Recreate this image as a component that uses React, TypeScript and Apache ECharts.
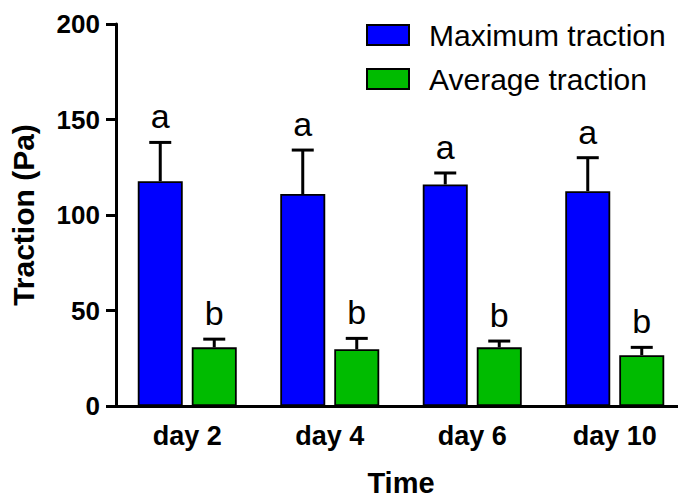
import React, { useEffect, useRef } from "react";
import * as echarts from "echarts";

const categories = ["day 2", "day 4", "day 6", "day 10"];
const maxMean = [117.7, 111, 116, 112.5];
const maxErr = [20.3, 23, 6, 17.5];
const avgMean = [30.7, 29.7, 30.7, 26.6];
const avgErr = [4.3, 5.7, 3.3, 4.1];
const maxLetters = ["a", "a", "a", "a"];
const avgLetters = ["b", "b", "b", "b"];
const yTicks = [0, 50, 100, 150, 200];

const FONT = "'Liberation Sans', Arial, Helvetica, sans-serif";

function errSeries(name: string, means: number[], errs: number[], letters: string[], offset: number) {
  return {
    type: "custom",
    name,
    clip: false,
    z: 5,
    data: means.map((m, i) => [i, m, errs[i]]),
    renderItem: (params: any, api: any) => {
      const i = api.value(0);
      const m = api.value(1);
      const e = api.value(2);
      const base = api.coord([i, m]);
      const top = api.coord([i, m + e]);
      const x = base[0] + offset;
      return {
        type: "group",
        children: [
          { type: "line", shape: { x1: x, y1: base[1], x2: x, y2: top[1] }, style: { stroke: "#000", lineWidth: 3 } },
          { type: "line", shape: { x1: x - 11, y1: top[1], x2: x + 11, y2: top[1] }, style: { stroke: "#000", lineWidth: 3 } },
          {
            type: "text",
            x: x,
            y: top[1] - 9,
            style: {
              text: letters[params.dataIndex],
              fontFamily: FONT,
              fontSize: 34,
              fill: "#000",
              align: "center",
              verticalAlign: "bottom",
            },
          },
        ],
      };
    },
  };
}

export default function App() {
  const ref = useRef<HTMLDivElement>(null);
  useEffect(() => {
    if (!ref.current) return;
    const chart = echarts.init(ref.current, null, { renderer: "svg" });
    chart.setOption({
      animation: false,
      backgroundColor: "#fff",
      grid: { left: 116, top: 24, width: 578, height: 384 },
      legend: {
        data: ["Maximum traction", "Average traction"],
        orient: "vertical",
        left: 361,
        top: 15,
        itemWidth: 42,
        itemHeight: 20,
        itemGap: 14,
        icon: "rect",
        textStyle: { fontFamily: FONT, fontSize: 30, color: "#000", padding: [0, 0, 0, 15] },
      },
      xAxis: {
        type: "category",
        data: categories,
        name: "Time",
        nameLocation: "middle",
        nameGap: 62,
        nameTextStyle: { fontFamily: FONT, fontSize: 29, fontWeight: "bold", color: "#000" },
        axisLine: { lineStyle: { color: "#000", width: 3 } },
        axisTick: { alignWithLabel: true, length: 9, lineStyle: { width: 3, color: "#000" } },
        axisLabel: { fontFamily: FONT, fontSize: 27, fontWeight: "bold", color: "#000", margin: 16 },
      },
      yAxis: {
        type: "value",
        min: yTicks[0],
        max: yTicks[yTicks.length - 1],
        interval: 50,
        name: "Traction (Pa)",
        nameLocation: "middle",
        nameGap: 78,
        nameTextStyle: { fontFamily: FONT, fontSize: 30, fontWeight: "bold", color: "#000" },
        axisLine: { show: true, lineStyle: { color: "#000", width: 3 } },
        axisTick: { show: true, length: 10, lineStyle: { width: 3, color: "#000" } },
        axisLabel: { fontFamily: FONT, fontSize: 26, fontWeight: "bold", color: "#000", margin: 16 },
        splitLine: { show: false },
      },
      series: [
        {
          type: "bar",
          name: "Maximum traction",
          data: maxMean,
          barWidth: 45,
          barGap: "20%",
          itemStyle: { color: "#0000ff", borderColor: "#000", borderWidth: 1.8 },
        },
        {
          type: "bar",
          name: "Average traction",
          data: avgMean,
          barWidth: 45,
          barGap: "20%",
          itemStyle: { color: "#00bb00", borderColor: "#000", borderWidth: 1.8 },
        },
        errSeries("maxErr", maxMean, maxErr, maxLetters, -27),
        errSeries("avgErr", avgMean, avgErr, avgLetters, 27),
      ],
    });
    return () => chart.dispose();
  }, []);
  return <div ref={ref} style={{ width: 686, height: 502, margin: -8 }} />;
}
